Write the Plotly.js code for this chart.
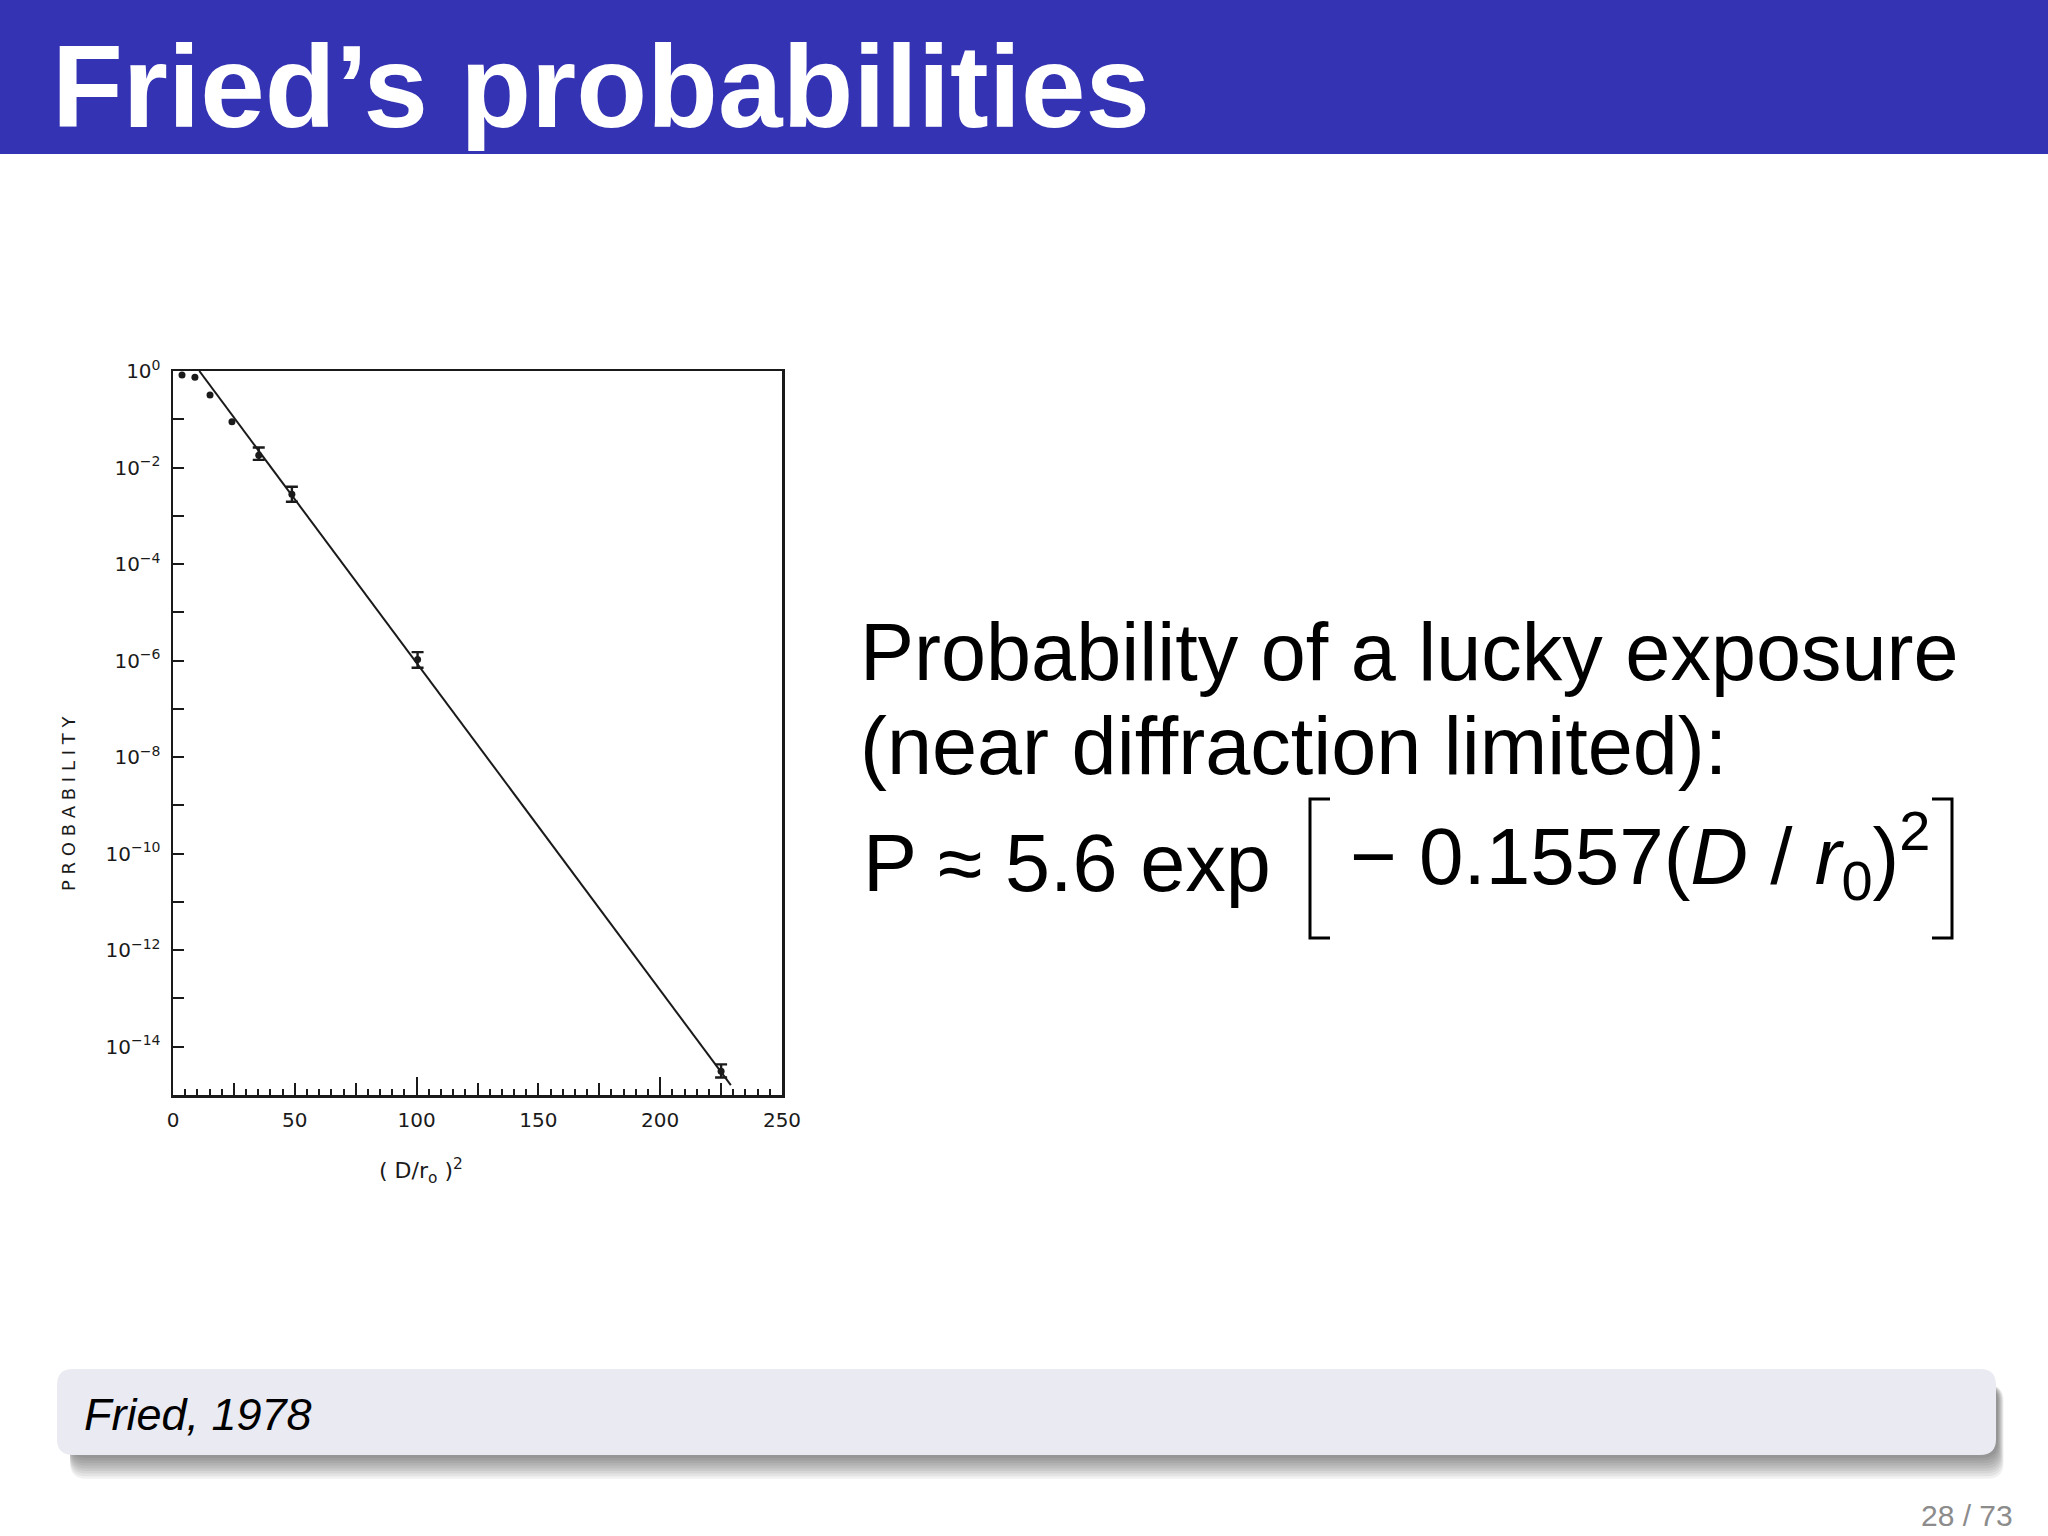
<!DOCTYPE html>
<html>
<head>
<meta charset="utf-8">
<script src="https://cdn.plot.ly/plotly-3.0.1.min.js"></script>
<style>
html,body{margin:0;padding:0;background:#fff;}
#chart{width:2048px;height:1536px;}
</style>
</head>
<body>
<div id="chart"></div>
<script>
// ---------- data ----------
const dotX = [3.7, 9.0, 15.2, 24.2];
const dotY = [0.83, 0.74, 0.32, 0.089];

const errX = [35.2, 48.8, 100.4, 225];
const errY = [0.018, 0.0028, 1.05e-6, 3.1e-15];
const errUpper = [0.026, 0.0040, 1.5e-6, 4.3e-15];
const errLower = [0.0144, 0.00196, 7.1e-7, 2.3e-15];

const fitX = [10.8, 229];
const fitY = [1.0, 1.6e-15];

const xTickVals = [0, 50, 100, 150, 200, 250];
const xTickText = ['0', '50', '100', '150', '200', '250'];
const xMidTicks = [25, 75, 125, 175, 225];
const xLongTicks = [100, 200];

const yTickVals = [1, 1e-2, 1e-4, 1e-6, 1e-8, 1e-10, 1e-12, 1e-14];
const yTickText = ['10<sup>0</sup>', '10<sup>−2</sup>', '10<sup>−4</sup>', '10<sup>−6</sup>',
                   '10<sup>−8</sup>', '10<sup>−10</sup>', '10<sup>−12</sup>', '10<sup>−14</sup>'];
const yMinorVals = [1e-1, 1e-3, 1e-5, 1e-7, 1e-9, 1e-11, 1e-13];

const slideTitle = 'Fried’s probabilities';
const bodyLine1 = 'Probability of a lucky exposure';
const bodyLine2 = '(near diffraction limited):';
const formulaLeft = 'P ≈ 5.6 exp';
const formulaRight = '− 0.1557(<i>D</i> / <i>r</i><sub>0</sub>)<sup>2</sup>';
const citation = 'Fried, 1978';
const pageNo = '28 / 73';
const xTitle = '( D/r<sub>o</sub> )<sup>2</sup>';
const yTitle = 'P R O B A B I L I T Y';

// ---------- geometry helpers (pixel -> paper) ----------
const W = 2048, H = 1536;
const L = 173, R = 782, T = 371, B = 1095;
const px = p => (p - L) / (R - L);
const py = p => (B - p) / (B - T);

function roundRectPath(x0, y0, x1, y1, r) {
  const P = (a, b) => px(a) + ',' + py(b);
  return 'M' + P(x0 + r, y0) + ' L' + P(x1 - r, y0) + ' Q' + P(x1, y0) + ' ' + P(x1, y0 + r) +
         ' L' + P(x1, y1 - r) + ' Q' + P(x1, y1) + ' ' + P(x1 - r, y1) +
         ' L' + P(x0 + r, y1) + ' Q' + P(x0, y1) + ' ' + P(x0, y1 - r) +
         ' L' + P(x0, y0 + r) + ' Q' + P(x0, y0) + ' ' + P(x0 + r, y0) + ' Z';
}
function polyPath(pts) {
  return 'M' + pts.map(q => px(q[0]) + ',' + py(q[1])).join(' L');
}

const ink = '#1a1a1a';
const chartFont = 'DejaVu Sans';

// ---------- traces ----------
const traces = [
  {
    x: fitX, y: fitY, type: 'scatter', mode: 'lines',
    line: {color: ink, width: 2}, hoverinfo: 'skip', showlegend: false
  },
  {
    x: dotX, y: dotY, type: 'scatter', mode: 'markers', cliponaxis: false,
    marker: {color: ink, size: 7}, showlegend: false
  },
  {
    x: errX, y: errY, type: 'scatter', mode: 'markers', cliponaxis: false,
    marker: {color: ink, size: 7}, showlegend: false,
    error_y: {
      type: 'data', symmetric: false,
      array: errUpper.map((u, i) => u - errY[i]),
      arrayminus: errY.map((v, i) => v - errLower[i]),
      color: ink, thickness: 2.4, width: 6
    }
  },
  {x: [], y: [], xaxis: 'x2', yaxis: 'y', type: 'scatter', mode: 'markers', showlegend: false},
  {x: [], y: [], xaxis: 'x3', yaxis: 'y', type: 'scatter', mode: 'markers', showlegend: false}
];

// ---------- shapes ----------
const shapes = [];
shapes.push({type: 'rect', xref: 'paper', yref: 'paper', layer: 'below',
  x0: px(0), x1: px(W), y0: py(154), y1: py(0), fillcolor: '#3333B3', line: {width: 0}});
for (let i = 0; i < 9; i++) {
  shapes.push({type: 'path', xref: 'paper', yref: 'paper', layer: 'below',
    path: roundRectPath(70, 1385, 1998 + i * 0.7, 1458 + i * 2.6, 16),
    fillcolor: 'rgba(0,0,0,0.055)', line: {width: 0}});
}
shapes.push({type: 'path', xref: 'paper', yref: 'paper', layer: 'below',
  path: roundRectPath(57, 1369, 1996, 1455, 16), fillcolor: '#EAEAF3', line: {width: 0}});
// big brackets of the formula
shapes.push({type: 'path', xref: 'paper', yref: 'paper',
  path: polyPath([[1330, 799], [1310, 799], [1310, 938], [1330, 938]]),
  line: {color: '#000', width: 3}});
shapes.push({type: 'path', xref: 'paper', yref: 'paper',
  path: polyPath([[1932, 799], [1952, 799], [1952, 938], [1932, 938]]),
  line: {color: '#000', width: 3}});

// ---------- annotations ----------
const ann = (text, x, y, opts) => Object.assign({
  text: text, xref: 'paper', yref: 'paper', x: px(x), y: py(y),
  xanchor: 'left', yanchor: 'middle', showarrow: false
}, opts);

const annotations = [
  ann('<b>' + slideTitle + '</b>', 50, 87, {font: {family: 'Liberation Sans', size: 116, color: '#fff'}}),
  ann(bodyLine1, 858, 652, {font: {family: 'Liberation Sans', size: 81, color: '#000'}}),
  ann(bodyLine2, 858, 746, {font: {family: 'Liberation Sans', size: 81, color: '#000'}}),
  ann(formulaLeft, 861, 863, {font: {family: 'Liberation Sans', size: 81, color: '#000'}}),
  ann(formulaRight, 1348, 855, {font: {family: 'Liberation Sans', size: 80, color: '#000'}}),
  ann('<i>' + citation + '</i>', 82, 1414, {font: {family: 'Liberation Sans', size: 45, color: '#000'}}),
  ann(pageNo, 2015, 1515, {xanchor: 'right', font: {family: 'Liberation Sans', size: 30, color: '#8c8c8c'}}),
  ann(xTitle, 421, 1171, {xanchor: 'center', font: {family: chartFont, size: 22, color: ink}}),
  ann(yTitle, 68, 804, {xanchor: 'center', textangle: -90, font: {family: chartFont, size: 18, color: ink}})
];

// ---------- layout ----------
const extraX = (vals, len) => ({
  range: [0, 250], overlaying: 'x', anchor: 'y', side: 'bottom',
  showgrid: false, zeroline: false, showline: false,
  tickmode: 'array', tickvals: vals, ticks: 'inside', ticklen: len,
  tickwidth: 2, tickcolor: ink, showticklabels: false
});

const layout = {
  width: W, height: H,
  margin: {l: L, r: W - R, t: T, b: H - B, pad: 0, autoexpand: false},
  paper_bgcolor: '#ffffff', plot_bgcolor: '#ffffff',
  showlegend: false,
  xaxis: {
    range: [0, 250], showgrid: false, zeroline: false,
    showline: true, mirror: true, linecolor: ink, linewidth: 2.5,
    tickmode: 'array', tickvals: xTickVals, ticktext: xTickText,
    ticks: 'inside', ticklen: 12, tickwidth: 2, tickcolor: ink,
    ticklabelstandoff: 5,
    tickfont: {family: chartFont, size: 20, color: ink},
    minor: {tick0: 0, dtick: 5, ticks: 'inside', ticklen: 6, tickwidth: 2, tickcolor: ink, showgrid: false}
  },
  xaxis2: extraX(xMidTicks, 12),
  xaxis3: extraX(xLongTicks, 18),
  yaxis: {
    type: 'log', range: [-15, 0], showgrid: false, zeroline: false,
    showline: true, mirror: true, linecolor: ink, linewidth: 2.5,
    tickmode: 'array', tickvals: yTickVals, ticktext: yTickText,
    ticks: 'inside', ticklen: 11, tickwidth: 2, tickcolor: ink,
    ticklabelstandoff: 6,
    tickfont: {family: chartFont, size: 20, color: ink},
    minor: {tickmode: 'array', tickvals: yMinorVals, ticks: 'inside', ticklen: 11,
            tickwidth: 2, tickcolor: ink, showgrid: false}
  },
  shapes: shapes,
  annotations: annotations
};

Plotly.newPlot('chart', traces, layout, {displayModeBar: false, staticPlot: true});
</script>
</body>
</html>
